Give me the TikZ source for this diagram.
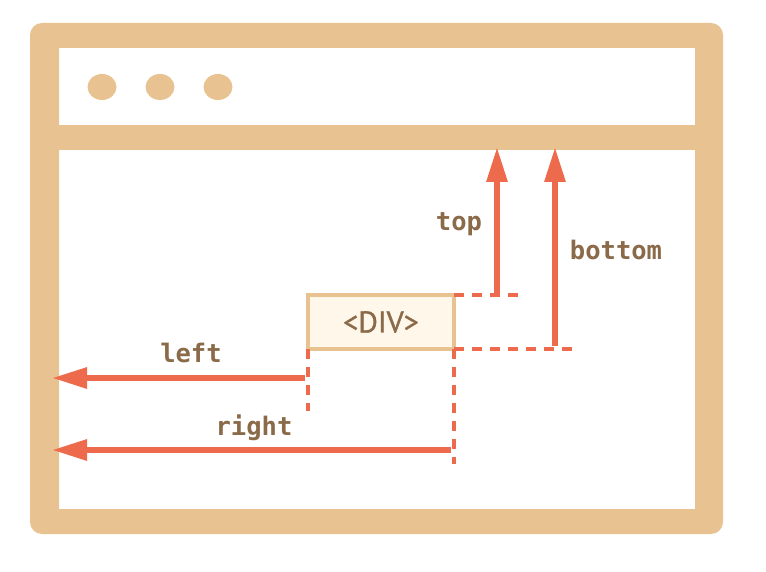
\documentclass[tikz,border=0pt]{standalone}
\usepackage{fontspec}
\setmainfont{PT Sans}
\newfontfamily\divfont[FakeBold=1]{PT Sans}
\newfontfamily\lblfont{DejaVu Sans Mono}
\usetikzlibrary{arrows.meta}
\definecolor{framec}{HTML}{E8C391}
\definecolor{redc}{HTML}{EE6A4C}
\definecolor{brownc}{HTML}{8A6A48}
\definecolor{boxfill}{HTML}{FFF7EA}
\tikzset{
  dashline/.style={draw=redc, line width=4.5pt, dash pattern=on 9.5pt off 8.5pt},
  arr/.style={draw=redc, line width=6pt, -{Triangle[length=35pt,width=20pt]}},
  lbl/.style={text=brownc, font=\lblfont\bfseries\fontsize{25.5}{25.5}\selectfont, inner sep=0pt, anchor=base},
  divbox/.style={draw=framec, line width=4pt, fill=boxfill, minimum width=146pt, minimum height=54pt, inner sep=0pt, outer sep=0pt, text=brownc, font=\divfont\fontsize{30}{30}\selectfont}
}
\begin{document}
\begin{tikzpicture}[x=1pt,y=-1pt]
\useasboundingbox (0,0) rectangle (766,572);
% window frame
\fill[framec, even odd rule, rounded corners=12pt] (30,23) rectangle (723,534) [sharp corners] (59,48) rectangle (695,509);
\fill[framec] (59,125) rectangle (695,150);
\fill[framec] (102,87) ellipse [x radius=14.5pt, y radius=13pt];
\fill[framec] (160,87) ellipse [x radius=14.5pt, y radius=13pt];
\fill[framec] (218,87) ellipse [x radius=14.5pt, y radius=13pt];
% div box
\node[divbox] (div) at (381,322) {<DIV>};
% coordinates
\coordinate (tdash) at (518,295);
\coordinate (bdash) at (572,349);
\coordinate (ldash) at (308,411);
\coordinate (rdash) at (454,464);
\coordinate (topstart) at (497,295);
\coordinate (toptip) at (497,147);
\coordinate (botstart) at (555,346);
\coordinate (bottip) at (555,147);
\coordinate (lstart) at (305,378);
\coordinate (ltip) at (52,378);
\coordinate (rstart) at (451,450);
\coordinate (rtip) at (52,450);
% dashed guides
\draw[dashline] (div.north east) -- (tdash);
\draw[dashline] (div.south east) -- (bdash);
\draw[dashline] (div.south west) -- (ldash);
\draw[dashline] (div.south east) -- (rdash);
% arrows
\draw[arr] (topstart) -- (toptip);
\draw[arr] (botstart) -- (bottip);
\draw[arr] (lstart) -- (ltip);
\draw[arr] (rstart) -- (rtip);
% labels
\node[lbl] (toplbl) at (459,231) {top};
\node[lbl] (botlbl) at (616,259) {bottom};
\node[lbl] (leftlbl) at (191,362) {left};
\node[lbl] (rightlbl) at (254,435) {right};
\end{tikzpicture}
\end{document}
